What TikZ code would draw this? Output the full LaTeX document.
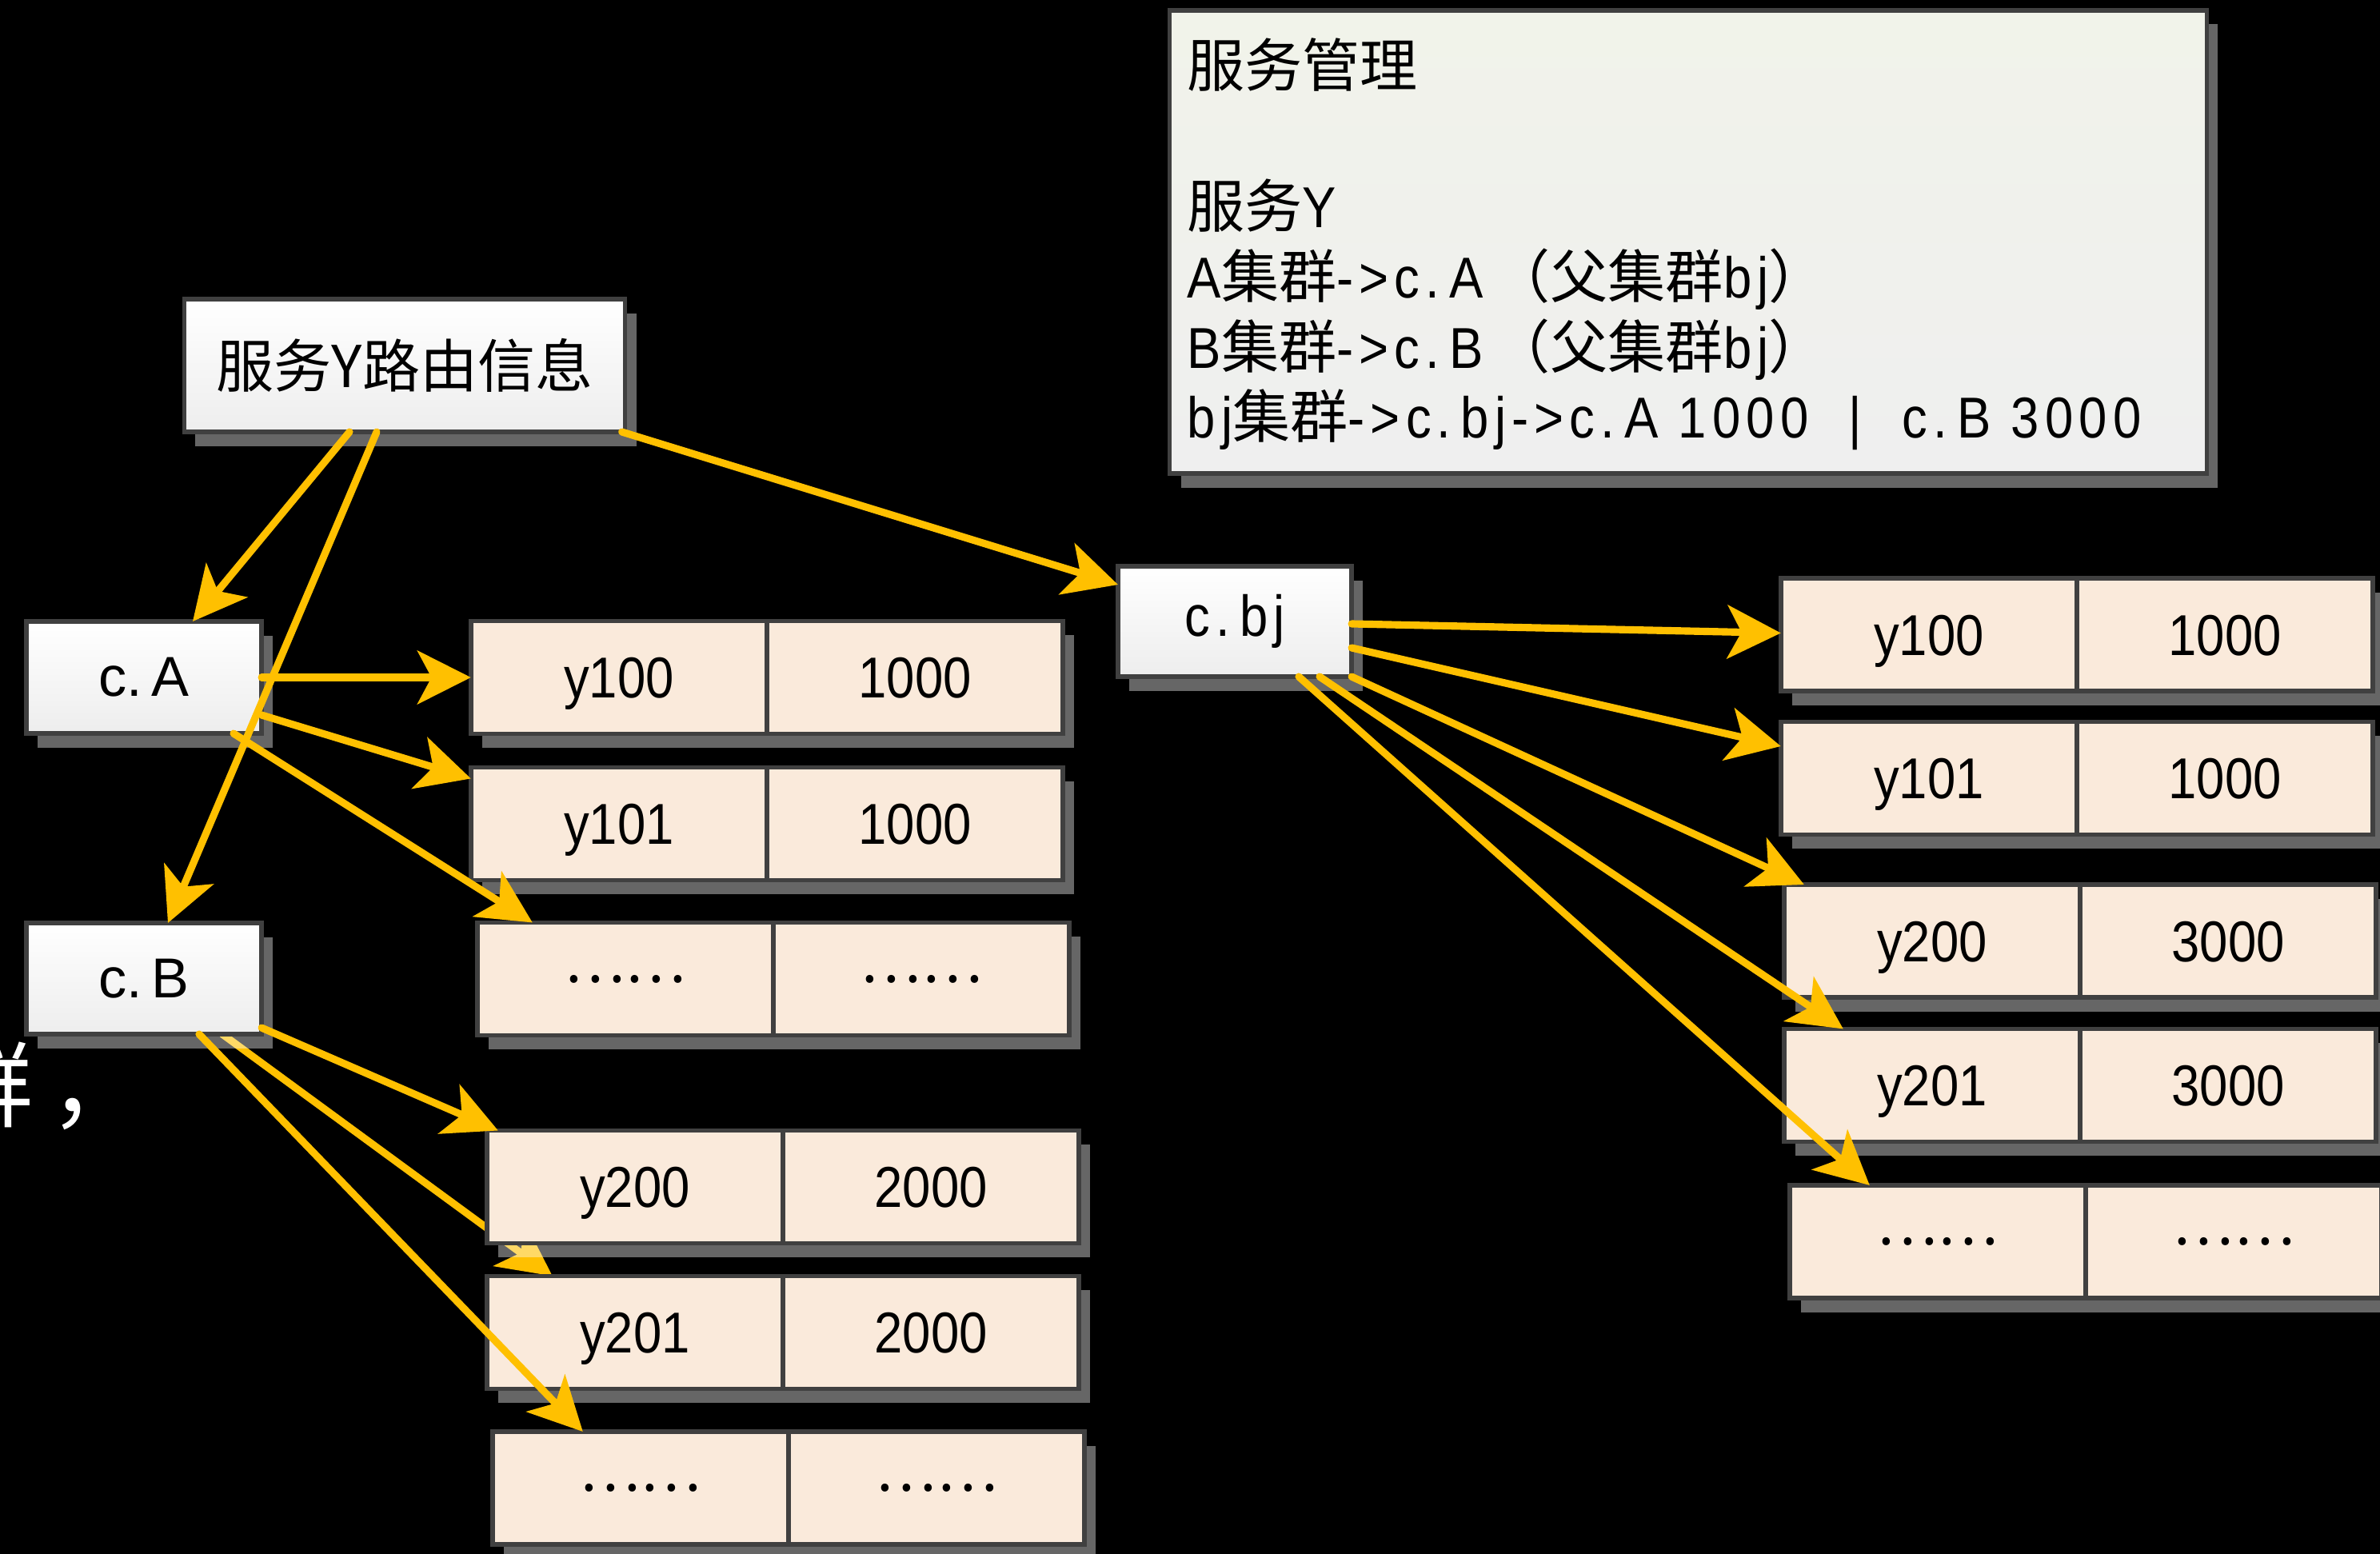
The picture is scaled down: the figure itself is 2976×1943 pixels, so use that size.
\documentclass[tikz,border=0pt]{standalone}
\usepackage{fontspec}
\setmainfont{Liberation Sans}
\newfontfamily\cjk{Noto Sans CJK SC}
\newfontfamily\narrowfont{Liberation Sans}[FakeStretch=0.88]
\newfontfamily\infofont{Liberation Sans}[FakeStretch=0.88,LetterSpace=10]
\usetikzlibrary{arrows.meta,shadows,calc}
\pgfdeclarelayer{bg}
\pgfsetlayers{bg,main}
\definecolor{arrowc}{HTML}{FFC000}
\definecolor{borderc}{HTML}{404040}
\definecolor{cellc}{HTML}{FAEADB}
\definecolor{infotop}{HTML}{F1F3EA}
\definecolor{infobot}{HTML}{EFEFEF}
\tikzset{
  shadowed/.style={drop shadow={shadow xshift=4pt,shadow yshift=-5pt,fill=white,opacity=0.4}},
  whitebox/.style={draw=borderc,line width=1.6pt,top color=white,bottom color=black!7,shadowed,inner sep=0pt,outer sep=0pt},
  cellbase/.style={draw=borderc,line width=1.6pt,fill=cellc,shadowed,inner sep=0pt,outer sep=0pt,minimum width=3.70cm,minimum height=1.41cm,font=\narrowfont\fontsize{20.5}{24}\selectfont},
  cell/.style={cellbase,text height=14.7pt,text depth=0pt},
  conn/.style={draw=arrowc,line width=2.6pt,line cap=round,-{Stealth[length=19pt,width=19pt,inset=5pt]}},
}
\begin{document}
\begin{tikzpicture}[x=0.01cm,y=-0.01cm]
\useasboundingbox (0,0) rectangle (2976,1943);
\begin{pgfonlayer}{bg}
\fill[black] (0,0) rectangle (2976,1943);
\end{pgfonlayer}

% background slide text, cut at the left edge
\node[text=white,anchor=base west,inner sep=0pt,font=\cjk\fontsize{33}{40}\selectfont] (bgtext) at (-75,1400) {群\hspace{6pt}，};

% info box
\node[draw=borderc,line width=1.6pt,top color=infotop,bottom color=infobot,shadowed,minimum width=12.96cm,minimum height=5.79cm,inner sep=0pt] (info) at (2111,302.5) {};
\node[anchor=base west,align=left,inner sep=0pt,font=\infofont\fontsize{20.5}{25}\selectfont] (infotext) at (1484,548)
{{\cjk 服务管理}\\[25pt]
{\cjk 服务}Y\\
A{\cjk 集群}->c.\,A\,{\cjk （父集群}bj{\cjk ）}\\
B{\cjk 集群}->c.\,B\,{\cjk （父集群}bj{\cjk ）}\\
bj{\cjk 集群}->c.\,bj->c.\,A\ 1000\hspace{0.7em}|\hspace{0.7em}c.\,B\ 3000};

% white boxes
\node[whitebox,minimum width=5.51cm,minimum height=1.66cm,font=\cjk\fontsize{20.5}{24}\selectfont] (route) at (506,457) {服务Y路由信息};
\node[whitebox,minimum width=2.94cm,minimum height=1.40cm,font=\fontsize{20}{24}\selectfont] (cA) at (180,847) {c.\,A};
\node[whitebox,minimum width=2.94cm,minimum height=1.39cm,font=\fontsize{20}{24}\selectfont] (cB) at (180,1223.5) {c.\,B};
\node[whitebox,minimum width=2.92cm,minimum height=1.38cm,font=\infofont\fontsize{20.5}{24}\selectfont] (cbj) at (1544,777) {c.\,bj};

% left table
\node[cell,anchor=east] (L1a) at (959,847) {y100};
\node[cell,anchor=west] (L1b) at (959,847) {1000};
\node[cell,anchor=east] (L2a) at (959,1030) {y101};
\node[cell,anchor=west] (L2b) at (959,1030) {1000};
\node[cellbase,anchor=east] (L3a) at (967,1224) {\cjk ……};
\node[cellbase,anchor=west] (L3b) at (967,1224) {\cjk ……};
\node[cell,anchor=east] (L4a) at (979,1484) {y200};
\node[cell,anchor=west] (L4b) at (979,1484) {2000};
\node[cell,anchor=east] (L5a) at (979,1666) {y201};
\node[cell,anchor=west] (L5b) at (979,1666) {2000};
\node[cellbase,anchor=east] (L6a) at (986,1860.5) {\cjk ……};
\node[cellbase,anchor=west] (L6b) at (986,1860.5) {\cjk ……};

% right table
\node[cell,anchor=east] (R1a) at (2597,793.5) {y100};
\node[cell,anchor=west] (R1b) at (2597,793.5) {1000};
\node[cell,anchor=east] (R2a) at (2597,973) {y101};
\node[cell,anchor=west] (R2b) at (2597,973) {1000};
\node[cell,anchor=east] (R3a) at (2601,1176.5) {y200};
\node[cell,anchor=west] (R3b) at (2601,1176.5) {3000};
\node[cell,anchor=east] (R4a) at (2601,1357) {y201};
\node[cell,anchor=west] (R4b) at (2601,1357) {3000};
\node[cellbase,anchor=east] (R5a) at (2608,1552.5) {\cjk ……};
\node[cellbase,anchor=west] (R5b) at (2608,1552.5) {\cjk ……};

% connector that runs behind the y200 row
\begin{pgfonlayer}{bg}
\draw[conn] ($(cB.south)+(98,0)$) -- ($(L5a.north west)+(82,0)$);
\end{pgfonlayer}

% connectors
\draw[conn] ($(route.south)+(-69,0)$) -- ($(cA.north)+(61,0)$);
\draw[conn] ($(route.south)+(-35,0)$) -- ($(cB.north)+(30,0)$);
\draw[conn] ($(route.south east)+(-4,0)$) -- ($(cbj.west)+(0,-46)$);
\draw[conn] (cA.east) -- (L1a.west);
\draw[conn] ($(cA.east)+(0,47)$) -- ($(L2a.north west)+(0,14)$);
\draw[conn] ($(cA.south)+(112,0)$) -- ($(L3a.north west)+(69,0)$);
\draw[conn] ($(cB.south east)+(0,-8)$) -- ($(L4a.north west)+(14,0)$);
\draw[conn] ($(cB.south)+(69,0)$) -- ($(L6a.north west)+(113,0)$);
\draw[conn] ($(cbj.east)+(0,3)$) -- ($(R1a.west)+(0,-2)$);
\draw[conn] ($(cbj.east)+(0,33)$) -- ($(R2a.west)+(0,-40)$);
\draw[conn] (cbj.south east) -- ($(R3a.north west)+(25,0)$);
\draw[conn] ($(cbj.south)+(106,0)$) -- ($(R4a.north west)+(74,0)$);
\draw[conn] ($(cbj.south)+(80,0)$) -- ($(R5a.north west)+(100,0)$);
\end{tikzpicture}
\end{document}
